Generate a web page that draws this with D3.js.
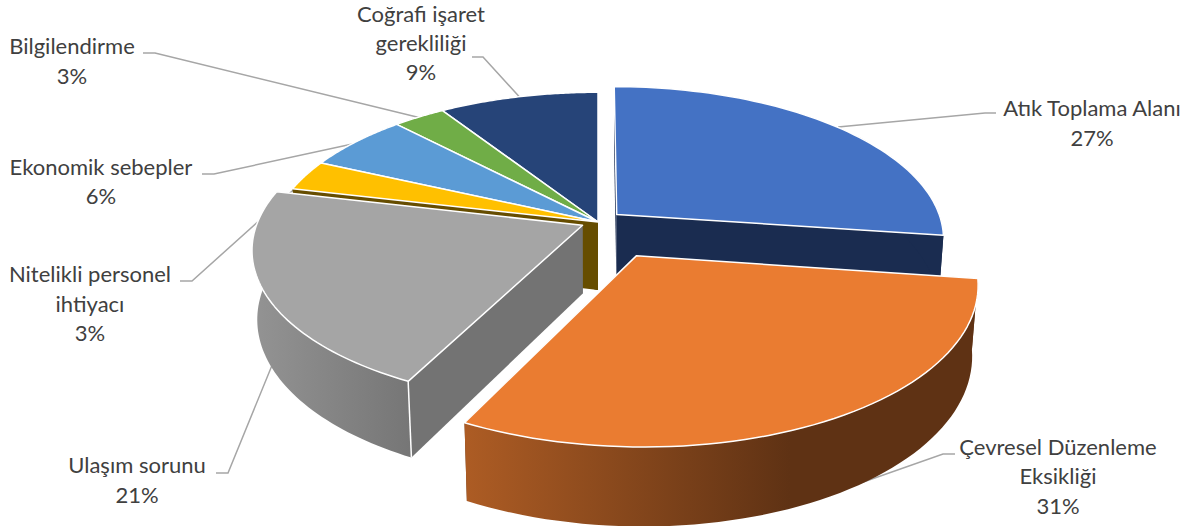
<!DOCTYPE html>
<html>
<head>
<meta charset="utf-8">
<script src="https://cdnjs.cloudflare.com/ajax/libs/d3/7.8.5/d3.min.js"></script>
<style>
  html, body { margin: 0; padding: 0; background: #fff; }
  svg { display: block; }
  text { font-family: Lato, "Open Sans", sans-serif; font-size: 22px; fill: #404040; text-anchor: middle; }
</style>
</head>
<body>
<svg id="chart" width="1196" height="526"></svg>
<script>
// values (slice shares, the printed labels are rounded)
const categories = ["Atık Toplama Alanı", "Çevresel Düzenleme Eksikliği", "Ulaşım sorunu", "Nitelikli personel ihtiyacı", "Ekonomik sebepler", "Bilgilendirme", "Coğrafi işaret gerekliliği"];
const shares = [27.2, 30.3, 21.2, 3.2, 6, 3, 9.1];
const percentLabels = ["27%", "31%", "21%", "3%", "6%", "3%", "9%"];

// styles
const topColors = ["#4472c4", "#ea7c31", "#a5a5a5", "#ffc000", "#5b9bd5", "#70ad47", "#264478"];
const wallColors = ["#1a2c50", "url(#wallOrange)", "url(#wallGray)", "#664d00", "#264478", "#70ad47", "#264478"];
const sideColors = ["#1a2c50", "#5f3214", "#737373", "#664d00", "#264478", "#70ad47", "#264478"];
const explode = [25, 80, 17, 0, 0, 0, 0];
const drawOrder = [6, 5, 4, 3, 0, 2, 1];

// label layout: lines, centre x, baselines, leader line
const labelLayout = [
  { lines: ["Atık Toplama Alanı"], x: 1092, y: [116, 146], leader: [[838, 127], [985, 113], [996, 113]] },
  { lines: ["Çevresel Düzenleme", "Eksikliği"], x: 1058, y: [455, 484, 514], leader: [[815, 499], [943, 454], [955, 454]] },
  { lines: ["Ulaşım sorunu"], x: 137, y: [473, 503], leader: [[275, 358], [228, 473], [216, 473]] },
  { lines: ["Nitelikli personel", "ihtiyacı"], x: 90, y: [282, 312, 341], leader: [[310, 175], [192, 281], [180, 281]] },
  { lines: ["Ekonomik sebepler"], x: 101, y: [175, 204], leader: [[357, 143], [214, 174], [202, 174]] },
  { lines: ["Bilgilendirme"], x: 72, y: [54, 84], leader: [[421, 118], [155, 53], [143, 53]] },
  { lines: ["Coğrafi işaret", "gerekliliği"], x: 421, y: [22, 51, 80], leader: [[525, 103], [483, 57], [472, 57]] }
];

// pie geometry on screen
const cx = 598, cy = 222, R = 325;
const tilt = 0.461, persp = 0.155, depth = 69, persp2 = 0.015;

function project(a, r, e, mid, z) {
  const X = r * Math.sin(a) + e * Math.sin(mid);
  const V = r * Math.cos(a) + e * Math.cos(mid);
  const s = 1 / (1 + persp * V / R + persp2 * z);
  return [cx + X * s, cy - tilt * V * s + depth * z * s];
}

const svg = d3.select("#chart");
const defs = svg.append("defs");

function addGradient(id, x1, x2, c1, c2) {
  const g = defs.append("linearGradient").attr("id", id)
    .attr("gradientUnits", "userSpaceOnUse")
    .attr("x1", x1).attr("x2", x2).attr("y1", 0).attr("y2", 0);
  g.append("stop").attr("offset", 0).attr("stop-color", c1);
  g.append("stop").attr("offset", 1).attr("stop-color", c2);
}
addGradient("wallOrange", 465, 790, "#ad5c24", "#5f3214");
addGradient("wallGray", 255, 410, "#939393", "#767676");

const arcs = d3.pie().sort(null).value(d => d)(shares);
const line = d3.line();

// leaders go under the slices, the slices cut them off
svg.append("g").selectAll("path")
  .data(labelLayout)
  .enter()
  .append("path")
  .attr("d", d => line(d.leader))
  .attr("fill", "none")
  .attr("stroke", "#a6a6a6")
  .attr("stroke-width", 1.5);

drawOrder.forEach(function (i) {
  const d = arcs[i];
  const mid = (d.startAngle + d.endAngle) / 2;
  const e = explode[i];
  const t = d3.scaleLinear().domain([0, 60]).range([d.startAngle, d.endAngle]);
  const angles = d3.range(0, 61).map(t);
  const apexTop = project(0, 0, e, mid, 0);
  const apexBottom = project(0, 0, e, mid, 1);
  const g = svg.append("g");

  // radial walls
  [d.endAngle, d.startAngle].forEach(function (a) {
    g.append("path")
      .attr("d", line([apexTop, project(a, R, e, mid, 0), project(a, R, e, mid, 1), apexBottom]) + "Z")
      .attr("fill", sideColors[i]);
  });

  // outer wall
  const upper = angles.map(a => project(a, R, e, mid, 0));
  const lower = angles.map(a => project(a, R, e, mid, 1)).reverse();
  g.append("path")
    .attr("d", line(upper.concat(lower)) + "Z")
    .attr("fill", wallColors[i]);

  // white corner between the two visible walls of the gray slice
  if (i === 2) {
    g.append("path")
      .attr("d", line([project(d.startAngle, R, e, mid, 0), project(d.startAngle, R, e, mid, 1)]))
      .attr("stroke", "#fff").attr("stroke-width", 1.5);
  }

  // top surface
  g.append("path")
    .attr("d", line([apexTop].concat(upper)) + "Z")
    .attr("fill", topColors[i])
    .attr("stroke", "#fff")
    .attr("stroke-width", 1.5)
    .attr("stroke-linejoin", "round");
});

const labels = svg.append("g").selectAll("g")
  .data(labelLayout)
  .enter()
  .append("g");

labels.each(function (d, i) {
  const rows = d.lines.concat([percentLabels[i]]);
  d3.select(this).selectAll("text")
    .data(rows)
    .enter()
    .append("text")
    .attr("x", d.x)
    .attr("y", (r, j) => d.y[j])
    .text(r => r);
});
</script>
</body>
</html>
